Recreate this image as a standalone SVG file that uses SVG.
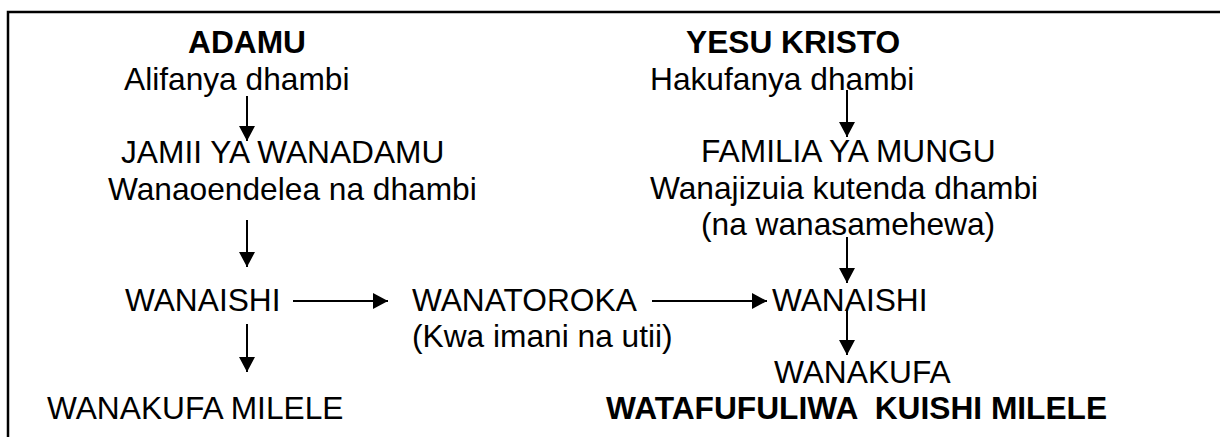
<svg xmlns="http://www.w3.org/2000/svg" width="1220" height="437" viewBox="0 0 1220 437">
<style>
text{font-family:"Liberation Sans",Arial,sans-serif;font-size:31.7px;fill:#000}
.b{font-weight:bold}
.c{stroke:#000;stroke-width:2;fill:none;marker-end:url(#ah)}
.frame{stroke:#000;stroke-width:2.5;fill:none}
</style>
<defs>
<marker id="ah" markerUnits="userSpaceOnUse" markerWidth="16" markerHeight="16" refX="15" refY="8" orient="auto">
<path d="M0,0 L15,8 L0,16 z" fill="#000"/>
</marker>
</defs>
<rect width="1220" height="437" fill="#fff"/>
<path class="frame" d="M8,437 V12 H1220"/>
<g id="adamu"><text class="b" x="188" y="53">ADAMU</text><text x="124" y="90">Alifanya dhambi</text></g>
<g id="yesu"><text class="b" x="686" y="53">YESU KRISTO</text><text x="650" y="90">Hakufanya dhambi</text></g>
<g id="jamii"><text x="121" y="163">JAMII YA WANADAMU</text><text x="108" y="200">Wanaoendelea na dhambi</text></g>
<g id="familia"><text x="701" y="162">FAMILIA YA MUNGU</text><text x="650" y="199">Wanajizuia kutenda dhambi</text><text x="701" y="235">(na wanasamehewa)</text></g>
<g id="wanaishi1"><text x="125" y="311">WANAISHI</text></g>
<g id="wanatoroka"><text x="412" y="311">WANATOROKA</text><text x="412" y="347">(Kwa imani na utii)</text></g>
<g id="wanaishi2"><text x="772" y="311">WANAISHI</text></g>
<g id="wanakufa2"><text x="774" y="383">WANAKUFA</text></g>
<g id="wanakufa1"><text x="47" y="419">WANAKUFA MILELE</text></g>
<g id="watafufuliwa"><text class="b" x="606" y="419" xml:space="preserve">WATAFUFULIWA  KUISHI MILELE</text></g>
<g id="connectors">
<line class="c" x1="247" y1="96" x2="247" y2="141"/>
<line class="c" x1="847" y1="90" x2="847" y2="137"/>
<line class="c" x1="247" y1="220" x2="247" y2="267"/>
<line class="c" x1="847" y1="237" x2="847" y2="283"/>
<line class="c" x1="293" y1="301" x2="388" y2="301"/>
<line class="c" x1="652" y1="301" x2="767" y2="301"/>
<line class="c" x1="247" y1="324" x2="247" y2="372"/>
<line class="c" x1="847" y1="309" x2="847" y2="355"/>
</g>
</svg>
